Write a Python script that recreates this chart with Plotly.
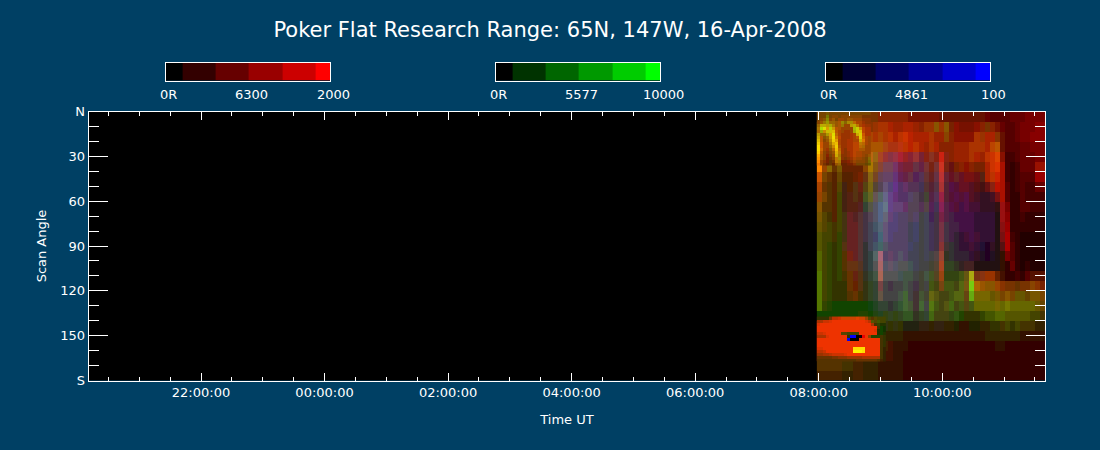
import plotly.graph_objects as go

W, H = 1100, 450
BG = "#004064"
TITLE = "Poker Flat Research Range: 65N, 147W, 16-Apr-2008"
X_TICKS = [22, 24, 26, 28, 30, 32, 34]
X_LABELS = ["22:00:00", "00:00:00", "02:00:00", "04:00:00", "06:00:00", "08:00:00", "10:00:00"]
Y_TICKS = [0, 30, 60, 90, 120, 150, 180]
Y_LABELS = ["N", "30", "60", "90", "120", "150", "S"]
X_RANGE = [20.18, 35.67]
IMG_START, IMG_END = 31.97, 35.67

BAR_NAMES = ["6300", "5577", "4861"]
BAR_MAX = ["2000", "10000", "100"]
BAR_EDGES = [0, 17, 50, 83, 117, 150, 165]
BAR_LEVELS = [0, 1, 2, 3, 4, 5]
BAR_COLORS = [
    ["#000000", "#330000", "#660000", "#990000", "#cc0000", "#ff0000"],
    ["#000000", "#003300", "#006600", "#009900", "#00cc00", "#00ff00"],
    ["#000000", "#000033", "#000066", "#000099", "#0000cc", "#0000ff"],
]
BAR_LEFT = [165, 495, 825]

RED = [
"67777 77776 77888 88877 77776 66666 66665 55566 67777",
"aa9a9 9aa86 89aaa 99aa9 89989 87877 78878 76556 77788",
"dcca9 bdc98 aaaab abcba aaa99 88888 8a9aa 86556 77888",
"dad9b 8aa89 aaaaa abbbb a9aa8 88999 aaaab b6555 66777",
"e9a7c 77779 b9a98 9a989 7888c 88999 aa9bc d8445 66677",
"f9867 66668 a8877 77776 6777c 76788 877ac da434 66699",
"c7656 55676 87666 66665 5666b 66667 765ab ca434 55599",
"a6555 45565 75565 65655 4555a 55566 55468 ba534 54466",
"97554 45554 66566 65555 44559 55555 54334 7a533 54444",
"85554 45553 55566 66655 55548 55545 44333 39733 55444",
"75454 46554 55566 55555 44447 54444 43333 29833 43333",
"65444 46654 44565 55544 44447 44444 43333 28933 33333",
"54443 46654 44465 55544 44447 44334 44333 27a43 22222",
"54333 56653 44455 55544 44448 43333 43223 25a53 22222",
"54333 57653 35a56 55544 44459 33333 33222 23753 22222",
"54333 56653 35a56 55544 4445a 33334 42222 23363 23222",
"54333 46653 34a55 54444 44459 33346 a7899 64334 35555",
"54333 36653 33744 44444 44447 44457 7a988 98776 77887",
"54333 35643 33644 44444 44654 44556 67776 77876 66777",
"53211 11111 12333 33444 44544 54445 46666 76766 66666",
"11111 11122 12233 33333 33444 43323 33344 55555 55444",
"eeeee eeeee e3333 33222 33333 33233 22333 34434 44433",
"eeeee eeeee e3433 33333 33333 33333 33333 33333 33333",
"eeeee eeeee e4444 33333 33333 33333 33333 33333 33333",
"eeeee eeeee e4444 33333 33333 33333 33333 33333 33333",
"55555 44443 33333 33333 33333 33333 33333 33333 33333",
"44444 33443 33333 33333 33333 33333 33333 33333 33333",
]
GREEN = [
"34444 33333 33222 22211 11111 11111 11100 00000 00000",
"9a785 7a933 33332 22222 23353 52111 11232 10000 00000",
"b9c54 5b834 43433 23322 22322 42111 13322 31000 00000",
"95b45 37434 55543 33323 22322 22222 33324 51000 00000",
"a4736 22224 66433 32223 22322 22222 32233 41000 00000",
"84635 22224 75444 32223 23233 21221 22223 31000 00011",
"54324 22223 64444 32232 33233 21211 11223 21000 00000",
"43324 22324 64454 33333 33233 21111 11112 11000 00000",
"44324 22325 65664 33344 34232 21111 11111 11000 00000",
"53324 22224 55674 44344 34232 21111 11111 11000 00000",
"54324 32233 45664 44444 44232 22111 11111 11000 00000",
"54434 32233 45654 44444 44333 32211 11111 11000 00000",
"54434 32233 44654 44444 44333 32211 11111 11000 00000",
"54434 32233 45654 44444 44333 33211 11101 11000 00000",
"64434 32233 46644 45444 44444 33222 11101 11000 00000",
"64434 33333 45655 55554 44444 44322 21111 11000 00000",
"74434 33233 45655 55554 45544 44455 a3333 21000 00111",
"74433 33233 44443 44543 44544 55465 c6555 43333 33432",
"74433 33333 44544 45643 54654 45664 a6665 54545 54554",
"74444 44444 44443 45653 64754 56454 56666 66766 66654",
"44444 44444 44444 44553 44644 44543 33455 66555 55443",
"33333 33333 34433 33222 22222 22211 22223 33434 33322",
"33333 33333 33222 22111 11111 11111 11122 22222 11111",
"33333 33333 33221 11100 00000 00000 00000 11000 00000",
"33333 33333 22111 11000 00000 00000 00000 00000 00000",
"33333 33222 22111 11000 00000 00000 00000 00000 00000",
"22222 22222 22111 11000 00000 00000 00000 00000 00000",
]
BLUE = [
"00000 00000 00000 00000 00000 00000 00000 00000 00000",
"00000 00000 00000 00000 00000 00000 00000 00000 00000",
"00000 00000 00000 00000 00000 00000 00000 00000 00000",
"00000 00000 00011 11000 00000 00000 00000 00000 00000",
"00000 00000 11234 43233 31211 10000 00000 00000 00000",
"00000 00000 01355 64334 43132 11000 00000 00000 00000",
"00000 00001 12566 75445 53243 32221 11100 00000 00000",
"00000 10111 13577 86655 53343 34322 21111 00000 00000",
"00000 11112 25688 76665 43454 33434 22222 10000 00000",
"00000 11123 46888 77655 54555 44344 33222 11000 00000",
"00000 12234 56877 76656 45544 44444 43333 11000 00000",
"00000 12234 56777 76656 45544 44444 43333 11000 00000",
"00000 12234 56777 66656 45544 44333 43333 11000 00000",
"00000 12233 56666 66665 45543 33333 33322 11000 00000",
"00000 01233 46766 66655 45443 23333 32222 10000 00000",
"00000 01123 45666 65555 44332 22222 21111 10000 00000",
"00000 00112 34555 55444 34221 11111 11100 00000 00000",
"00000 00011 23444 44444 34111 11111 10000 00000 00000",
"00000 00001 23444 44343 33111 11111 10000 00000 00000",
"00000 00000 12333 33333 34111 11111 10000 00000 00000",
"00000 00000 01212 12222 23111 11100 00000 00000 00000",
"00000 00000 00010 10111 11011 00000 00000 00000 00000",
"00000 00000 00000 00000 00000 00000 00000 00000 00000",
"00000 00000 00000 00000 00000 00000 00000 00000 00000",
"00000 00000 00000 00000 00000 00000 00000 00000 00000",
"00000 00000 00000 00000 00000 00000 00000 00000 00000",
"00000 00000 00000 00000 00000 00000 00000 00000 00000",
]

# finer block for the bright arcs at the top left of the scan
ARC_START, ARC_END = 31.97, 32.844
ARC_TOP, ARC_BOTTOM = 0.0, 36.1
ARC_RED = [
"77777 77777 77777 777",
"77777 88788 88888 777",
"78888 97998 99999 888",
"89999 99a98 aabaa 988",
"9bbba a9a99 9bbba a99",
"aaddb cba99 99acc baa",
"a9ccc dba99 99acd baa",
"b99ad dba99 9aacd caa",
"cb89c ecb99 9aabd ca9",
"db89b eda99 aaaac da9",
"ec99a dea99 aabbb ba9",
"fc999 cea99 aabbb a99",
"fc998 beb98 aabba a99",
"fb888 9db98 9abaa 999",
"fa887 9ca88 9abaa 989",
"fa877 8ba87 89a99 878",
"f9876 7ba77 88988 877",
"e9766 69966 77877 766",
]
ARC_GREEN = [
"44454 44444 44444 444",
"44474 44444 44444 333",
"44584 54444 55444 333",
"45796 65586 88644 333",
"6aa9a 75574 49a74 333",
"7dd9c 95544 44bc8 433",
"6a8bb b5443 34acb 433",
"96699 d6433 334ac 533",
"a5569 d7433 3345c 644",
"b5458 c9433 3344a 744",
"c5447 ab433 33447 644",
"d5446 8c533 33446 644",
"d6435 6b633 33445 544",
"c5434 5a733 33444 444",
"a5424 4a733 33444 445",
"95423 47833 33444 446",
"84323 37722 23444 446",
"74323 25622 22344 445",
]
ARC_BLUE = ["00000 00000 00000 000"] * 18

# finer block for the bright patch low on the left of the scan
PATCH_START, PATCH_END = 31.97, 33.087
PATCH_TOP, PATCH_BOTTOM = 137.2, 167.3
PATCH_RED = [
"33337 bbccc cccdc c9555 444",
"aaccd eeeee eeeee edb55 444",
"deeee eeeee eeeee eeea4 322",
"eeeee eeeee eeeee eeeee 411",
"eeeee eeeee eeeee eeeed 211",
"ccdee eee55 4444e eeeee 212",
"aaade eeeee 30001 ee822 243",
"eeeee eeeee 0000e eeeee e43",
"eeeee eeeee eeeee eeeee e43",
"eeeee eeeee eeeee eeeee e43",
"ddeee eeeee eefff feeee e43",
"bbcee eeeee eefff feeee e43",
"99aab ccccd eeeee eeeee e43",
"66666 77888 99999 aaaaa a43",
"55555 55555 55566 66666 543",
]
PATCH_GREEN = [
"33333 33344 44444 44434 444",
"33333 33333 33333 33354 544",
"33333 33333 33333 33333 433",
"33333 33333 33333 33333 343",
"33333 33333 33333 33333 343",
"33333 33344 44443 33333 343",
"33333 33333 30000 03444 433",
"33333 33333 00003 33333 333",
"33333 33333 33333 33333 333",
"33333 33333 33333 33333 333",
"33333 33333 33ddd d3333 332",
"33333 33333 33eee d3333 332",
"33333 33333 33333 33333 332",
"33333 33333 33333 33333 332",
"33333 33333 33333 33333 322",
]
PATCH_BLUE = [
"00000 00000 00000 00000 000",
"00000 00000 00000 00000 000",
"00000 00000 00000 00000 000",
"00000 00000 00000 00000 000",
"00000 00000 00000 00000 000",
"00000 00000 00000 00000 000",
"00000 00000 0ff00 00000 000",
"00000 00000 f0000 00000 000",
"00000 00000 00000 00000 000",
"00000 00000 00000 00000 000",
"00000 00000 00000 00000 000",
"00000 00000 00000 00000 000",
"00000 00000 00000 00000 000",
"00000 00000 00000 00000 000",
"00000 00000 00000 00000 000",
]


def rgb(red, green, blue):
    out = []
    for r, g, b in zip(red, green, blue):
        r, g, b = r.replace(" ", ""), g.replace(" ", ""), b.replace(" ", "")
        assert len(r) == len(g) == len(b)
        out.append([[int(p, 16) * 17, int(q, 16) * 17, int(s, 16) * 17] for p, q, s in zip(r, g, b)])
    return out


FONT = "DejaVu Sans"
fig = go.Figure()

for red, green, blue, x_a, x_b, y_a, y_b in (
    (RED, GREEN, BLUE, IMG_START, IMG_END, 0.0, 180.0),
    (ARC_RED, ARC_GREEN, ARC_BLUE, ARC_START, ARC_END, ARC_TOP, ARC_BOTTOM),
    (PATCH_RED, PATCH_GREEN, PATCH_BLUE, PATCH_START, PATCH_END, PATCH_TOP, PATCH_BOTTOM),
):
    z = rgb(red, green, blue)
    dx = (x_b - x_a) / len(z[0])
    dy = (y_b - y_a) / len(z)
    fig.add_trace(go.Image(z=z, x0=x_a + dx / 2, dx=dx, y0=y_a + dy / 2, dy=dy, hoverinfo="skip"))

annotations = []
layout_axes = {}
for i, (left, colors) in enumerate(zip(BAR_LEFT, BAR_COLORS)):
    n = i + 2
    fig.add_trace(go.Heatmap(
        z=[BAR_LEVELS], x=BAR_EDGES, y=[0, 1], zmin=0, zmax=5, showscale=False,
        colorscale=[[v / 5, c] for v, c in zip(BAR_LEVELS, colors)],
        xaxis=f"x{n}", yaxis=f"y{n}", hoverinfo="skip",
    ))
    layout_axes[f"xaxis{n}"] = dict(
        domain=[(left + 0.6) / W, (left + 165.4) / W], range=[0, 165], anchor=f"y{n}", showgrid=False,
        zeroline=False, showticklabels=False, ticks="", showline=True, mirror=True,
        linecolor="white", linewidth=1, automargin=False)
    layout_axes[f"yaxis{n}"] = dict(
        domain=[1 - 80.5 / H, 1 - 62.5 / H], range=[0, 1], anchor=f"x{n}", showgrid=False,
        zeroline=False, showticklabels=False, ticks="", showline=True, mirror=True,
        linecolor="white", linewidth=1, automargin=False)
    for text, off in (("0R", 3.5), (BAR_NAMES[i], 86), (BAR_MAX[i], 168.5)):
        annotations.append(dict(
            text=text, x=(left + off) / W, y=1 - 94 / H, xref="paper", yref="paper",
            xanchor="center", yanchor="middle", showarrow=False,
            font=dict(family=FONT, size=13, color="white")))

fig.update_layout(
    width=W, height=H, autosize=False, margin=dict(l=0, r=0, t=0, b=0),
    paper_bgcolor=BG, plot_bgcolor="black", showlegend=False,
    font=dict(family=FONT, size=13, color="white"),
    title=dict(text=TITLE, x=0.5, xanchor="center", y=1 - 30 / H, yanchor="middle",
               font=dict(family=FONT, size=21, color="white")),
    xaxis=dict(
        domain=[88.6 / W, 1045.4 / W], range=X_RANGE, tickvals=X_TICKS, ticktext=X_LABELS,
        ticks="inside", ticklen=8, tickwidth=1, tickcolor="white", showgrid=False, zeroline=False,
        showline=True, linecolor="white", linewidth=1, mirror="allticks", automargin=False,
        minor=dict(tick0=0, dtick=0.5, ticks="inside", ticklen=4, tickwidth=1, tickcolor="white", showgrid=False),
        title=dict(text="Time UT", font=dict(family=FONT, size=13, color="white"), standoff=15),
        tickfont=dict(family=FONT, size=13, color="white"), tickangle=0, scaleanchor=False,
    ),
    yaxis=dict(
        domain=[1 - 380.5 / H, 1 - 111.5 / H], range=[180, 0], tickvals=Y_TICKS, ticktext=Y_LABELS,
        ticks="inside", ticklen=19, tickwidth=1, tickcolor="white", showgrid=False, zeroline=False,
        showline=True, linecolor="white", linewidth=1, mirror="allticks", automargin=False,
        minor=dict(tick0=0, dtick=10, ticks="inside", ticklen=10, tickwidth=1, tickcolor="white", showgrid=False),
        title=dict(text="Scan Angle", font=dict(family=FONT, size=13, color="white"), standoff=10),
        tickfont=dict(family=FONT, size=13, color="white"), scaleanchor=False,
    ),
    annotations=annotations,
    **layout_axes,
)
fig.write_html("out.html", config={"displayModeBar": False},
               post_script="document.body.style.margin='0';document.body.style.overflow='hidden';")
